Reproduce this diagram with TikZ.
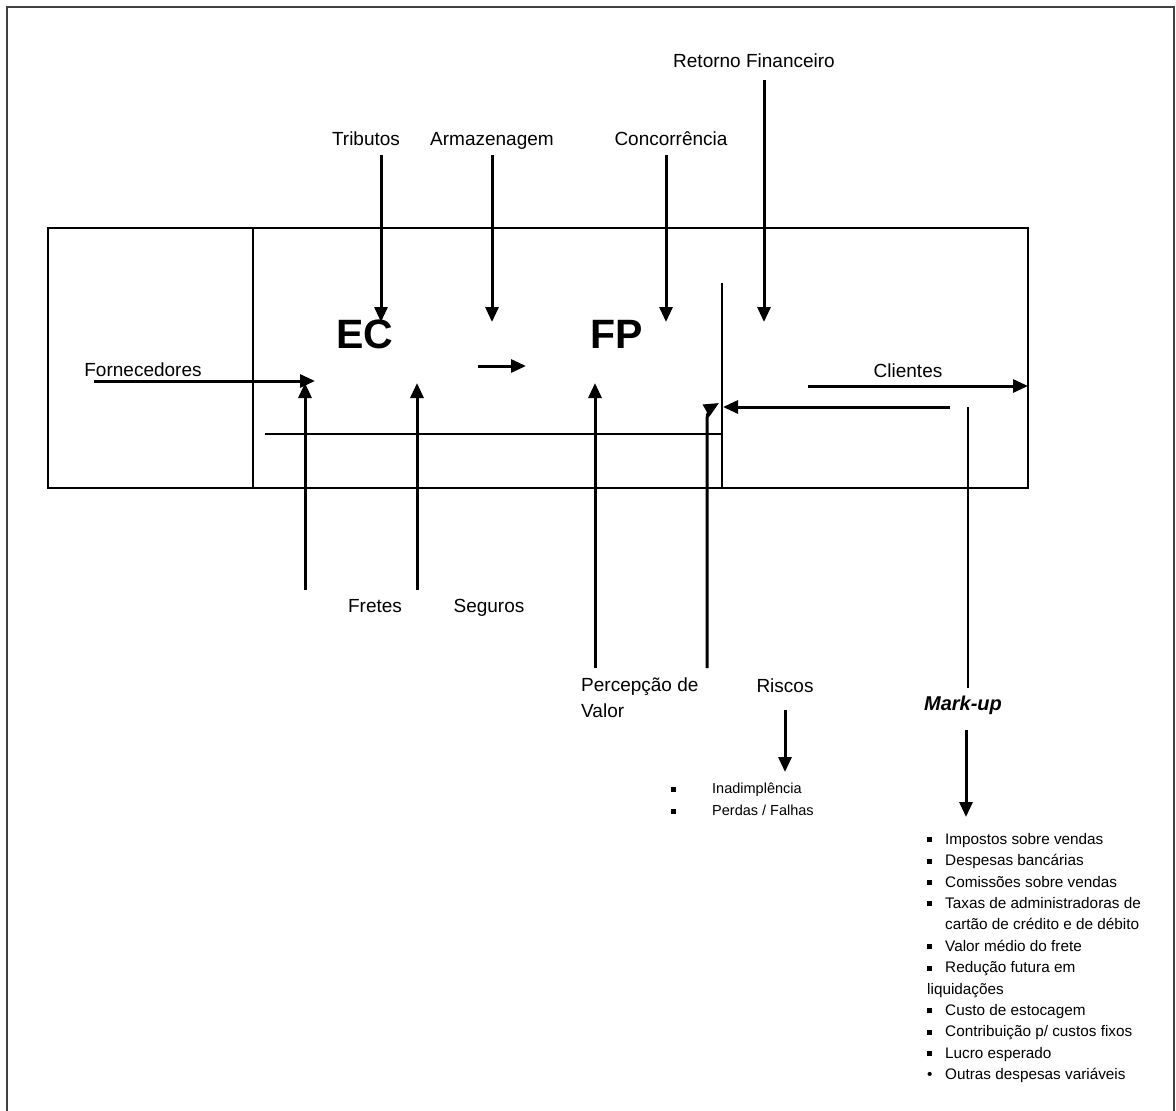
\documentclass[tikz,border=0pt]{standalone}
\usepackage{fontspec}
\setmainfont{Liberation Sans}
\usetikzlibrary{arrows.meta}
\begin{document}
\begin{tikzpicture}[x=1pt,y=-1pt,
  lbl/.style={font=\fontsize{19}{26}\selectfont, inner sep=1pt, anchor=base},
  big/.style={font=\fontsize{41}{44}\selectfont\bfseries, inner sep=1pt},
  small/.style={font=\fontsize{14.5}{21.8}\selectfont, inner sep=0pt, align=left},
  listtext/.style={font=\fontsize{15.3}{21.4}\selectfont, inner sep=0pt, align=left},
  arr/.style={line width=3pt, -{Triangle[length=15pt,width=13pt]}},
  thinline/.style={line width=1.3pt},
  frame/.style={line width=2.2pt, draw=black!75}]
\useasboundingbox (0,0) rectangle (1176,1111);
% outer frame (open at the bottom)
\draw[frame] (7,1111) -- (7,7) -- (1174,7) -- (1174,1111);
% main box
\draw[thinline] (48,228) rectangle (1028,488);
\draw[thinline] (253,228) -- (253,488);
\draw[thinline] (265,434) -- (722,434);
\draw[thinline] (722,283) -- (722,488);

% labels
\node[lbl] (ret) at (754,67) {Retorno Financeiro};
\node[lbl] (trib) at (366,145) {Tributos};
\node[lbl] (arm) at (492,145) {Armazenagem};
\node[lbl] (conc) at (671,145) {Concorrência};
\node[big] (ec) at (365,334) {EC};
\node[big] (fp) at (617,334) {FP};
\node[lbl] (forn) at (143,376) {Fornecedores};
\node[lbl] (cli) at (908,377) {Clientes};
\node[lbl] (fre) at (375,612) {Fretes};
\node[lbl] (seg) at (489,612) {Seguros};
\node[font=\fontsize{19}{26}\selectfont, inner sep=0pt, align=left, anchor=north west] (perc) at (581,678) {Percepção de\\Valor};
\node[lbl] (ris) at (785,692) {Riscos};
\node[font=\fontsize{20}{24}\selectfont\bfseries\itshape, inner sep=1pt, anchor=base] (mk) at (963,710) {Mark-up};

% coordinates for arrow ends
\coordinate (retS) at (764,80);   \coordinate (retE) at (764,322);
\coordinate (tribS) at (381,155); \coordinate (tribE) at (381,322);
\coordinate (armS) at (492,155);  \coordinate (armE) at (492,322);
\coordinate (concS) at (666,155); \coordinate (concE) at (666,322);
\coordinate (fornS) at (94,381);  \coordinate (fornE) at (315,381);
\coordinate (ecfS) at (478,366);  \coordinate (ecfE) at (526,366);
\coordinate (freS) at (305,590);  \coordinate (freE) at (305,383);
\coordinate (segS) at (417,590);  \coordinate (segE) at (417,383);
\coordinate (pvS) at (595,668);   \coordinate (pvE) at (595,383);
\coordinate (risS) at (707,668);  \coordinate (risM) at (707,420);
\coordinate (risE) at (719,403);
\coordinate (cliS) at (808,386);  \coordinate (cliE) at (1028,386);
\coordinate (backS) at (950,407); \coordinate (backE) at (723,407);
\coordinate (mkS) at (968,407);   \coordinate (mkT) at (968,688);
\coordinate (mkA) at (966,730);   \coordinate (mkB) at (966,817);
\coordinate (rA) at (785,710);    \coordinate (rB) at (785,772);

% arrows
\draw[arr] (retS) -- (retE);
\draw[arr] (tribS) -- (tribE);
\draw[arr] (armS) -- (armE);
\draw[arr] (concS) -- (concE);
\draw[arr] (fornS) -- (fornE);
\draw[arr] (ecfS) -- (ecfE);
\draw[arr] (freS) -- (freE);
\draw[arr] (segS) -- (segE);
\draw[arr] (pvS) -- (pvE);
\draw[arr] (risS) -- (risM) to[out=90,in=210] (risE);
\draw[arr] (cliS) -- (cliE);
\draw[arr] (backS) -- (backE);
\draw[thinline] (mkS) -- (mkT);
\draw[arr] (mkA) -- (mkB);
\draw[arr] (rA) -- (rB);

% risk list
\node[small, anchor=north west] (rlist) at (671,783) {%
\makebox[41pt][l]{\rule[2pt]{5pt}{5pt}}Inadimplência\\
\makebox[41pt][l]{\rule[2pt]{5pt}{5pt}}Perdas / Falhas};

% mark-up list
\node[listtext, anchor=north west] (mlist) at (927,833) {%
\makebox[18pt][l]{\rule[2pt]{5pt}{5pt}}Impostos sobre vendas\\
\makebox[18pt][l]{\rule[2pt]{5pt}{5pt}}Despesas bancárias\\
\makebox[18pt][l]{\rule[2pt]{5pt}{5pt}}Comissões sobre vendas\\
\makebox[18pt][l]{\rule[2pt]{5pt}{5pt}}Taxas de administradoras de\\
\hspace*{18pt}cartão de crédito e de débito\\
\makebox[18pt][l]{\rule[2pt]{5pt}{5pt}}Valor médio do frete\\
\makebox[18pt][l]{\rule[2pt]{5pt}{5pt}}Redução futura em\\
liquidações\\
\makebox[18pt][l]{\rule[2pt]{5pt}{5pt}}Custo de estocagem\\
\makebox[18pt][l]{\rule[2pt]{5pt}{5pt}}Contribuição p/ custos fixos\\
\makebox[18pt][l]{\rule[2pt]{5pt}{5pt}}Lucro esperado\\
\makebox[18pt][l]{\textbullet}Outras despesas variáveis};
\end{tikzpicture}
\end{document}
